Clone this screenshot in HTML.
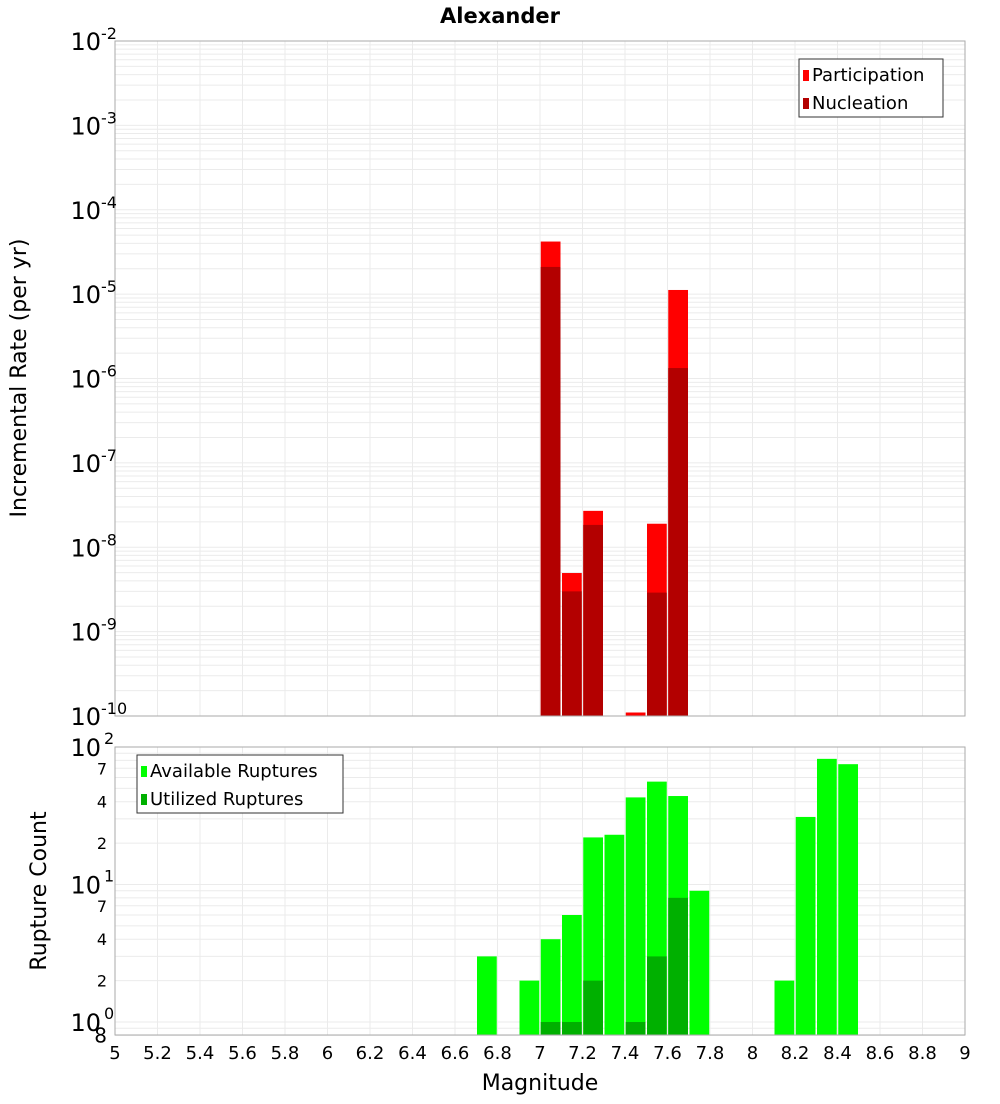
<!DOCTYPE html>
<html><head><meta charset="utf-8"><style>
body{margin:0;background:#fff;font-family:"DejaVu Sans","Liberation Sans",sans-serif}
svg text{font-family:"DejaVu Sans","Liberation Sans",sans-serif}
</style></head><body>
<svg id="c" width="1000" height="1100" xmlns="http://www.w3.org/2000/svg">
<text x="500" y="23" text-anchor="middle" font-size="21" font-weight="bold">Alexander</text>
<text transform="translate(26,378) rotate(-90)" text-anchor="middle" font-size="22">Incremental Rate (per yr)</text>
<text transform="translate(46,891) rotate(-90)" text-anchor="middle" font-size="22">Rupture Count</text>
<text x="540" y="1090" text-anchor="middle" font-size="22">Magnitude</text>
<g id="topG"></g><g id="botG"></g><g id="xt"></g>
</svg>
<script>
const bins=[7.05,7.15,7.25,7.45,7.55,7.65];
const participation=[4.2e-5,4.95e-9,2.7e-8,1.1e-10,1.9e-8,1.12e-5];
const nucleation=[2.1e-5,3.0e-9,1.84e-8,0,2.9e-9,1.33e-6];
const availBins=[6.75,6.95,7.05,7.15,7.25,7.35,7.45,7.55,7.65,7.75,8.15,8.25,8.35,8.45];
const available=[3,2,4,6,22,23,43,56,44,9,2,31,82,75];
const utilBins=[7.05,7.15,7.25,7.45,7.55,7.65];
const utilized=[1,1,2,1,3,8];
const xTicks=[5,5.2,5.4,5.6,5.8,6,6.2,6.4,6.6,6.8,7,7.2,7.4,7.6,7.8,8,8.2,8.4,8.6,8.8,9];
const topDecades=[-2,-3,-4,-5,-6,-7,-8,-9,-10];
const botMinor=[7,4,2,7,4,2];
const botMinorVals=[70,40,20,7,4,2];

const NS='http://www.w3.org/2000/svg';
const X0=115,X1=965;
const xs=m=>X0+(m-5)/4*(X1-X0);
const yT=v=>41+(-2-Math.log10(v))*84.375;
const yB=v=>747+(2-Math.log10(v))*137.5;
function mk(p,t,a){const e=document.createElementNS(NS,t);for(const k in a)e.setAttribute(k,a[k]);p.appendChild(e);return e;}
const topG=document.getElementById('topG'),botG=document.getElementById('botG'),xt=document.getElementById('xt');
function grid(g,ytop,ybot,ylog){
  for(const t of xTicks){const l=mk(g,'line',{x1:xs(t),x2:xs(t),y1:ytop,y2:ybot,stroke:'#ebebeb'});
  
  }
  ylog();
}
grid(topG,41,716,()=>{
  for(let d=-10;d<-2;d++)for(let k=1;k<10;k++){const v=k*Math.pow(10,d);const yy=yT(v);
    const l=mk(topG,'line',{x1:X0,x2:X1,y1:yy,y2:yy,stroke:'#ebebeb'});
    
    }
});
grid(botG,747,1035,()=>{
  for(let d=-1;d<2;d++)for(let k=1;k<10;k++){const v=k*Math.pow(10,d);if(v<0.8)continue;const yy=yB(v);
    const l=mk(botG,'line',{x1:X0,x2:X1,y1:yy,y2:yy,stroke:'#ebebeb'});
    
    }
});
const bw=xs(5.1)-xs(5)-1.5;
function bar(g,m,v,yf,base,fill,name){
  if(!v)return;const yy=yf(v);
  const r=mk(g,'rect',{x:xs(m-0.05)+0.75,y:yy,width:bw,height:base-yy,fill:fill});
  
  
}
bins.forEach((m,i)=>bar(topG,m,participation[i],yT,716,'#ff0000','participation-bar'));
bins.forEach((m,i)=>bar(topG,m,nucleation[i],yT,716,'#b30000','nucleation-bar'));
availBins.forEach((m,i)=>bar(botG,m,available[i],yB,1035,'#00ff00','available-bar'));
utilBins.forEach((m,i)=>bar(botG,m,utilized[i],yB,1035,'#00b000','utilized-bar'));
[[topG,41,716],[botG,747,1035]].forEach(([g,a,b])=>{const r=mk(g,'rect',{x:X0,y:a,width:X1-X0,height:b-a,fill:'none',stroke:'#aaaaaa'});

});
topDecades.forEach(d=>{const yy=yT(Math.pow(10,d));
  const t=mk(topG,'text',{x:101,y:yy+9,'text-anchor':'end','font-size':24});t.textContent='10';
  
  
  const s=mk(topG,'text',{x:101,y:yy-2,'font-size':16});s.textContent=String(d);
  
  });
[2,1,0].forEach(d=>{const yy=yB(Math.pow(10,d));
  const t=mk(botG,'text',{x:101,y:yy+9,'text-anchor':'end','font-size':24});t.textContent='10';
  
  
  const s=mk(botG,'text',{x:104,y:yy-3,'font-size':16});s.textContent=String(d);
  
  });
botMinorVals.forEach((v,i)=>{const t=mk(botG,'text',{x:107,y:yB(v)+6,'text-anchor':'end','font-size':16});t.textContent=botMinor[i];
  
  });
{const t=mk(botG,'text',{x:107,y:yB(0.8)+7,'text-anchor':'end','font-size':20});t.textContent='8';

}
xTicks.forEach(m=>{const t=mk(xt,'text',{x:xs(m),y:1059,'text-anchor':'middle','font-size':18});t.textContent=String(m);
  
  });
function legend(g,lx,ly,w,items){const r=mk(g,'rect',{x:lx,y:ly,width:w,height:58,fill:'#fff',stroke:'#333'});
  
  
  items.forEach(([c,l],i)=>{const sw=mk(g,'rect',{x:lx+4,y:ly+11+i*28,width:6,height:11,fill:c});
    
    
    const t=mk(g,'text',{x:lx+13,y:ly+22+i*28,'font-size':18});t.textContent=l;
    
    });}
legend(topG,799,59,144,[['#ff0000','Participation'],['#b30000','Nucleation']]);
legend(botG,137,755,206,[['#00ff00','Available Ruptures'],['#00b000','Utilized Ruptures']]);
</script>
</body></html>
